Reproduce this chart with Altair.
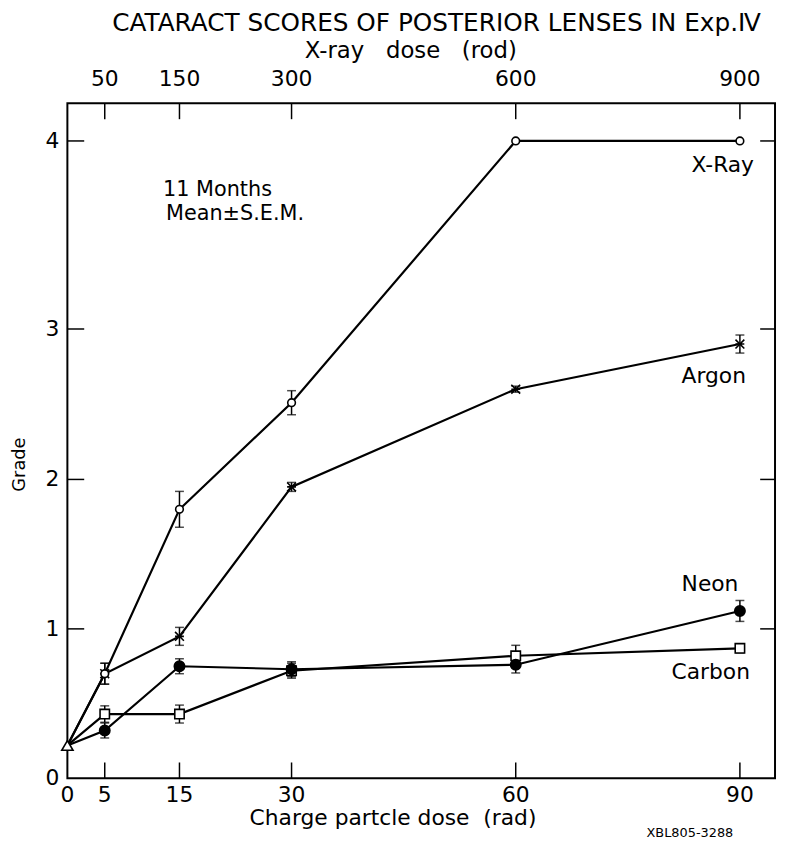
import altair as alt
import pandas as pd

# ---------------- data ----------------
doses = [0, 5, 15, 30, 60, 90]                 # charge particle dose (rad)
dose_labels = ["0", "5", "15", "30", "60", "90"]
xray_dose_labels = ["50", "150", "300", "600", "900"]   # X-ray dose (rad) at doses[1:]

series_names = ["X-Ray", "Argon", "Neon", "Carbon"]
xray = [0.22, 0.70, 1.80, 2.51, 4.00, 4.00]
xray_sem = [0, 0.07, 0.12, 0.08, 0, 0]
argon = [0.22, 0.70, 0.95, 1.95, 2.60, 2.90]
argon_sem = [0, 0.07, 0.06, 0.03, 0.02, 0.06]
neon = [0.22, 0.32, 0.75, 0.73, 0.76, 1.12]
neon_sem = [0, 0.05, 0.05, 0.05, 0.055, 0.07]
carbon = [0.22, 0.43, 0.43, 0.72, 0.82, 0.87]
carbon_sem = [0, 0.055, 0.06, 0.05, 0.07, 0.03]

grade_ticks = [0, 1, 2, 3, 4]
grade_labels = ["0", "1", "2", "3", "4"]

rows = []
for name, vals, sems in zip(series_names, [xray, argon, neon, carbon],
                            [xray_sem, argon_sem, neon_sem, carbon_sem]):
    for d, v, s in zip(doses, vals, sems):
        rows.append({"series": name, "dose": d, "grade": v, "sem": s})
df = pd.DataFrame(rows)

# annotation texts (placed in data units)
series_label_x = [87.7, 86.5, 86.0, 86.1]
series_label_y = [3.87, 2.69, 1.30, 0.71]
note_lines = ["11 Months", "Mean\u00b1S.E.M."]
note_x = [12.8, 13.2]
note_y = [3.74, 3.61]

FONT = "DejaVu Sans"
W, H = 715, 682

xscale = alt.Scale(domain=[0, 94.7], nice=False, zero=False)
yscale = alt.Scale(domain=[0, 1, 2, 3, 4, 4.2], range=[682, 531, 380, 228, 38, 0],
                   nice=False, zero=False)


def X(field):
    return alt.X(field, type="quantitative", scale=xscale, axis=None)


def Y(field):
    return alt.Y(field, type="quantitative", scale=yscale, axis=None)


base = alt.Chart(df)

lines = base.mark_line(color="black", strokeWidth=2.2).encode(
    x=X("dose"), y=Y("grade"), detail="series:N", order="dose:Q")

errs = base.transform_filter("datum.sem > 0").transform_calculate(
    lo="datum.grade - datum.sem", hi="datum.grade + datum.sem")

err_rules = errs.mark_rule(color="black", strokeWidth=1.5).encode(
    x=X("dose"), y=Y("lo"), y2="hi:Q")
err_caps = errs.transform_fold(["lo", "hi"], as_=["end", "yv"]).mark_tick(
    orient="horizontal", size=9, thickness=1.5, color="black").encode(
    x=X("dose"), y=Y("yv"))

marker_styles = {
    "Carbon": dict(shape="square", size=90, fill="white"),
    "Neon": dict(shape="circle", size=110, fill="black"),
    "Argon": dict(shape="M-1,-1L1,1M-1,1L1,-1M-1,0L1,0", size=80, fill="black"),
    "X-Ray": dict(shape="circle", size=60, fill="white"),
}
markers = []
for name, st in marker_styles.items():
    markers.append(
        base.transform_filter(f"datum.series == '{name}' && datum.dose > 0").mark_point(
            shape=st["shape"], size=st["size"], filled=True, fill=st["fill"],
            stroke="black", strokeWidth=1.6, opacity=1).encode(
            x=X("dose"), y=Y("grade"))
    )
control = base.transform_filter("datum.series == 'X-Ray' && datum.dose == 0").mark_point(
    shape="triangle-up", size=130, filled=True, fill="white", stroke="black",
    strokeWidth=1.6, opacity=1).encode(x=X("dose"), y=Y("grade"))

# inward tick marks on all four sides, and tick labels
xt_df = pd.DataFrame({"d": doses[1:], "lab": xray_dose_labels})
xb_df = pd.DataFrame({"d": doses, "lab": dose_labels})
yt_df = pd.DataFrame({"g": grade_ticks, "lab": grade_labels})
xt = alt.Chart(xt_df)
yt = alt.Chart(yt_df).transform_filter("datum.g > 0")
tick_bottom = xt.mark_rule(color="black", strokeWidth=1.5).encode(
    x=X("d"), y=alt.value(H), y2=alt.value(H - 16))
tick_top = xt.mark_rule(color="black", strokeWidth=1.5).encode(
    x=X("d"), y=alt.value(0), y2=alt.value(16))
tick_left = yt.mark_rule(color="black", strokeWidth=1.5).encode(
    y=Y("g"), x=alt.value(0), x2=alt.value(17))
tick_right = yt.mark_rule(color="black", strokeWidth=1.5).encode(
    y=Y("g"), x=alt.value(W), x2=alt.value(W - 15))

top_labels = xt.mark_text(font=FONT, fontSize=22, color="black", baseline="middle").encode(
    x=X("d"), y=alt.value(-25), text="lab:N")
bottom_labels = alt.Chart(xb_df).mark_text(font=FONT, fontSize=22, color="black",
                                           baseline="middle").encode(
    x=X("d"), y=alt.value(H + 17), text="lab:N")
left_labels = alt.Chart(yt_df).mark_text(font=FONT, fontSize=22, color="black",
                                         baseline="middle", align="right").encode(
    y=Y("g"), x=alt.value(-8), text="lab:N")

lab_df = pd.DataFrame({"t": series_names, "x": series_label_x, "y": series_label_y})
series_labels = alt.Chart(lab_df).mark_text(font=FONT, fontSize=22, color="black",
                                            baseline="middle", align="center").encode(
    x=X("x"), y=Y("y"), text="t:N")

note_df = pd.DataFrame({"t": note_lines, "x": note_x, "y": note_y})
notes = alt.Chart(note_df).mark_text(font=FONT, fontSize=21, color="black",
                                     baseline="middle", align="left").encode(
    x=X("x"), y=Y("y"), text="t:N")


def free_text(t, x, y, size, **kw):
    return alt.Chart(pd.DataFrame({"t": [t]})).mark_text(
        font=FONT, fontSize=size, color="black", baseline="middle", align="center", **kw
    ).encode(x=alt.value(x), y=alt.value(y), text="t:N")


title_txt = free_text("CATARACT SCORES OF POSTERIOR LENSES IN Exp.\u2163", 373, -81, 25)
xray_title = free_text("X-ray \u00a0\u00a0dose \u00a0\u00a0(rod)", 347, -53, 23)
x_title = free_text("Charge partcle dose \u00a0(rad)", 329, H + 40, 22)
y_title = free_text("Grade", -48, 365, 18, angle=270)
code_txt = free_text("XBL805-3288", 629, H + 55, 13)

chart = alt.layer(
    lines, err_rules, err_caps, *markers, control,
    tick_bottom, tick_top, tick_left, tick_right,
    top_labels, bottom_labels, left_labels, series_labels, notes,
    title_txt, xray_title, x_title, y_title, code_txt,
).properties(
    width=W, height=H,
    autosize=alt.AutoSizeParams(type="none"),
    padding={"left": 60, "top": 92, "right": 2, "bottom": 60},
    background="white",
).configure_view(
    stroke="black", strokeWidth=2
)

chart.save("out.html", embed_options={"renderer": "svg", "actions": False})
